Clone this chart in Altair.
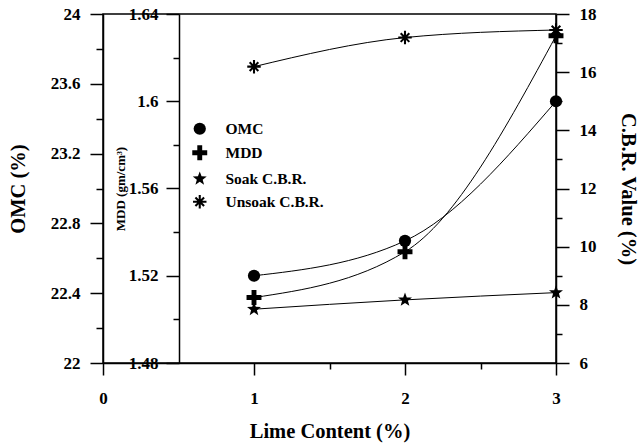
import altair as alt
import pandas as pd

# ---- data ----
lime = [1, 2, 3]
omc = [22.50, 22.70, 23.50]
mdd = [1.510, 1.531, 1.630]
soak = [7.85, 8.17, 8.42]
unsoak = [16.19, 17.19, 17.45]

series_names = ["OMC", "MDD", "Soak C.B.R.", "Unsoak C.B.R."]
x_ticks = [0, 1, 1.5, 2, 2.5, 3]
omc_ticks = [22, 22.2, 22.4, 22.6, 22.8, 23.0, 23.2, 23.4, 23.6, 23.8, 24]
mdd_ticks = [1.48, 1.50, 1.52, 1.54, 1.56, 1.58, 1.60, 1.62, 1.64]
cbr_ticks = [6, 7, 8, 9, 10, 11, 12, 13, 14, 15, 16, 17, 18]

FONT = "Liberation Serif"
W, H = 453, 349
LBL = 17

# marker outlines (unit square -1..1, scaled by Vega)
PLUS = ("M-0.4,-1.22L0.4,-1.22L0.4,-0.4L1.22,-0.4L1.22,0.4L0.4,0.4L0.4,1.22"
        "L-0.4,1.22L-0.4,0.4L-1.22,0.4L-1.22,-0.4L-0.4,-0.4Z")
STAR = ("M0,-1.2L0.294,-0.405L1.141,-0.371L0.476,0.155L0.706,0.971L0,0.5"
        "L-0.706,0.971L-0.476,0.155L-1.141,-0.371L-0.294,-0.405Z")
ASTER = ("M1.1,0.17L1.1,-0.17L-1.1,-0.17L-1.1,0.17Z"
         "M-0.17,1.1L0.17,1.1L0.17,-1.1L-0.17,-1.1Z"
         "M0.587,0.827L0.827,0.587L-0.587,-0.827L-0.827,-0.587Z"
         "M-0.827,0.587L-0.587,0.827L0.827,-0.587L0.587,-0.827Z")
shapes = ["circle", PLUS, STAR, ASTER]

df_omc = pd.DataFrame({"lime": lime, "val": omc, "series": "OMC"})
df_mdd = pd.DataFrame({"lime": lime, "val": mdd, "series": "MDD"})
df_cbr = pd.concat([
    pd.DataFrame({"lime": lime, "val": soak, "series": "Soak C.B.R."}),
    pd.DataFrame({"lime": lime, "val": unsoak, "series": "Unsoak C.B.R."}),
])

common_axis = dict(labelFont=FONT, labelFontSize=LBL, labelFontWeight="bold",
                   labelColor="black", titleFont=FONT, titleFontWeight="bold",
                   titleColor="black", format="~g")

xs = alt.Scale(domain=[0, 3], nice=False, zero=False)
x_axis = alt.Axis(
    values=x_ticks, title="Lime Content (%)",
    labelExpr="datum.value % 1 === 0 ? datum.label : ''",
    tickSize={"condition": {"test": "datum.value % 1 === 0", "value": 12}, "value": 6},
    labelPadding=15, labelFlush=False, titleFontSize=20.5,
    titleX=W / 2, titleY=68, titleAlign="center", titleBaseline="middle",
    **common_axis,
)
x_enc = alt.X("lime:Q", scale=xs, axis=x_axis)

legend = alt.Legend(
    title=None, orient="none", legendX=89, legendY=107,
    labelFont=FONT, labelFontSize=15.5, labelFontWeight="bold", labelColor="black",
    symbolSize=150, labelOffset=18, rowPadding=4, padding=0,
    symbolFillColor="black", symbolOpacity=1,
)
shape_enc = alt.Shape(
    "series:N",
    scale=alt.Scale(domain=series_names, range=shapes),
    legend=legend,
)

pt_props = dict(filled=True, color="black", size=150, opacity=1)
line_props = dict(interpolate="monotone", color="black", strokeWidth=1)

# OMC
omc_axis = alt.Axis(
    orient="left", values=omc_ticks, title="OMC (%)",
    labelExpr="abs(round(datum.value*10)) % 4 === 0 ? datum.label : ''",
    tickSize={"condition": {"test": "abs(round(datum.value*10)) % 4 === 0", "value": 13}, "value": 7},
    labelPadding=10, titleFontSize=20.5,
    titleX=-85, titleY=H / 2, titleAngle=270, titleAlign="center", titleBaseline="middle",
    **common_axis,
)
base_omc = alt.Chart(df_omc).encode(
    x=x_enc,
    y=alt.Y("val:Q", scale=alt.Scale(domain=[22, 24], nice=False, zero=False), axis=omc_axis),
)
omc_layer = alt.layer(
    base_omc.mark_line(**line_props),
    base_omc.mark_point(**pt_props).encode(shape=shape_enc),
)

# MDD (inner axis at x = 0.5)
mdd_axis = alt.Axis(
    orient="left", offset=-76, values=mdd_ticks, title="MDD (gm/cm³)",
    labelExpr="abs(round(datum.value*100)) % 4 === 0 ? datum.label : ''",
    tickSize={"condition": {"test": "abs(round(datum.value*100)) % 4 === 0", "value": 13}, "value": 6},
    labelPadding=8, titleFontSize=13,
    titleX=-59, titleY=H / 2, titleAngle=270, titleAlign="center", titleBaseline="middle",
    **common_axis,
)
base_mdd = alt.Chart(df_mdd).encode(
    x=x_enc,
    y=alt.Y("val:Q", scale=alt.Scale(domain=[1.48, 1.64], nice=False, zero=False), axis=mdd_axis),
)
mdd_layer = alt.layer(
    base_mdd.mark_line(**line_props),
    base_mdd.mark_point(**pt_props).encode(shape=shape_enc),
)

# CBR
cbr_axis = alt.Axis(
    orient="right", values=cbr_ticks, title="C.B.R. Value (%)",
    labelExpr="datum.value % 2 === 0 ? datum.label : ''",
    tickSize={"condition": {"test": "datum.value % 2 === 0", "value": 13}, "value": 6},
    labelPadding=10, titleFontSize=20.5,
    titleX=71, titleY=H / 2, titleAngle=90, titleAlign="center", titleBaseline="middle",
    **common_axis,
)
base_cbr = alt.Chart(df_cbr).encode(
    x=x_enc,
    y=alt.Y("val:Q", scale=alt.Scale(domain=[6, 18], nice=False, zero=False), axis=cbr_axis),
)
cbr_layer = alt.layer(
    base_cbr.mark_line(**line_props).encode(detail="series:N"),
    base_cbr.mark_point(**pt_props).encode(shape=shape_enc),
)

chart = (
    alt.layer(omc_layer, mdd_layer, cbr_layer)
    .resolve_scale(y="independent")
    .properties(
        width=W, height=H,
        autosize=alt.AutoSizeParams(type="none"),
        padding={"left": 103, "top": 14, "right": 82, "bottom": 84},
        background="white",
    )
    .configure_view(stroke="black", strokeWidth=1.5)
    .configure_axis(
        grid=False, domainColor="black", domainWidth=1.5, tickColor="black", tickWidth=1.5,
    )
)

chart.save("out.html", embed_options={"renderer": "svg", "actions": False})
